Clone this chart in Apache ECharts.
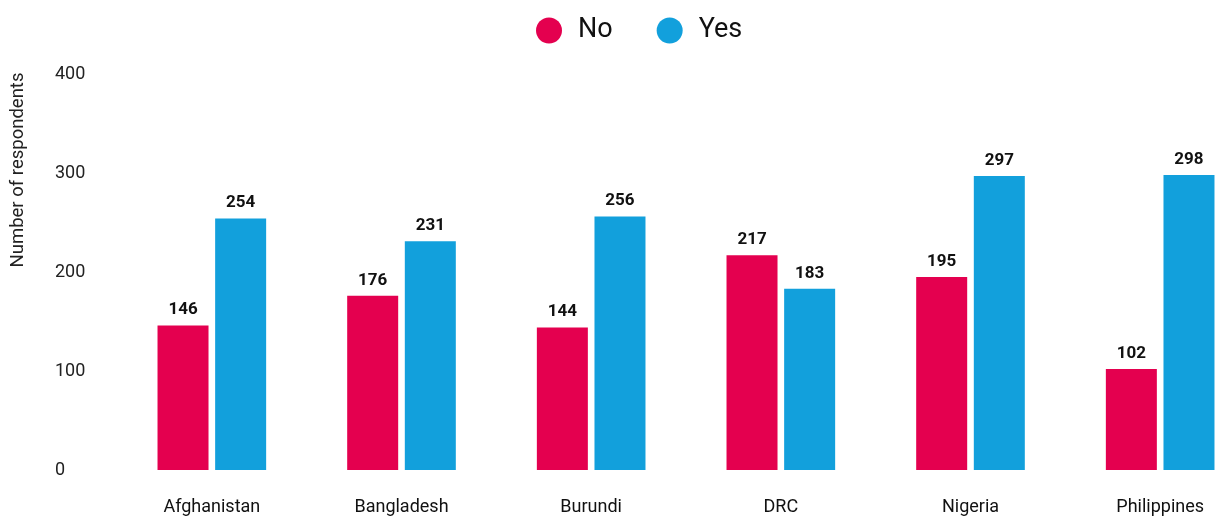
<!DOCTYPE html>
<html>
<head>
<meta charset="utf-8">
<script src="https://cdn.jsdelivr.net/npm/echarts@6/dist/echarts.min.js"></script>
<style>
  html, body { margin: 0; padding: 0; background: #fff; }
  #chart { width: 1221px; height: 519px; }
</style>
</head>
<body>
<div id="chart"></div>
<script>
const countries = ['Afghanistan', 'Bangladesh', 'Burundi', 'DRC', 'Nigeria', 'Philippines']
const noValues = [146, 176, 144, 217, 195, 102]
const yesValues = [254, 231, 256, 183, 297, 298]
const yTicks = [0, 100, 200, 300, 400]

const font = 'Roboto, "Noto Sans", sans-serif'

const barLabel = {
  show: true,
  position: 'top',
  distance: 7,
  fontFamily: font,
  fontSize: 17,
  fontWeight: 'bold',
  color: '#111'
}

const myChart = echarts.init(document.getElementById('chart'))
myChart.setOption({
  animation: false,
  legend: {
    top: 12,
    left: 531,
    icon: 'circle',
    itemWidth: 26,
    itemHeight: 26,
    itemGap: 44,
    textStyle: {
      fontFamily: font,
      fontSize: 27,
      color: '#111',
      padding: [0, 0, 0, 11]
    },
    data: ['No', 'Yes']
  },
  // grid runs past the right edge, the last group is cut close like in the original
  grid: {
    left: 117,
    right: -34,
    top: 74,
    bottom: 49,
    outerBoundsMode: 'none',
    containLabel: false
  },
  graphic: [
    {
      type: 'text',
      x: 18,
      y: 170,
      rotation: Math.PI / 2,
      style: {
        text: 'Number of respondents',
        fontFamily: font,
        fontSize: 18.5,
        fill: '#222',
        align: 'center',
        verticalAlign: 'middle'
      }
    }
  ],
  xAxis: {
    type: 'category',
    data: countries,
    axisLine: { show: false },
    axisTick: { show: false },
    axisLabel: {
      margin: 28,
      fontFamily: font,
      fontSize: 18,
      color: '#111'
    }
  },
  yAxis: {
    type: 'value',
    min: yTicks[0],
    max: yTicks[yTicks.length - 1],
    interval: 100,
    splitLine: { show: false },
    axisLine: { show: false },
    axisTick: { show: false },
    axisLabel: {
      align: 'left',
      margin: 62,
      fontFamily: font,
      fontSize: 18,
      color: '#222'
    }
  },
  series: [
    {
      name: 'No',
      type: 'bar',
      data: noValues,
      barWidth: 51,
      barGap: '13%',
      itemStyle: { color: '#E4004F' },
      label: barLabel
    },
    {
      name: 'Yes',
      type: 'bar',
      data: yesValues,
      barWidth: 51,
      barGap: '13%',
      itemStyle: { color: '#12A0DC' },
      label: barLabel
    }
  ]
})
</script>
</body>
</html>
